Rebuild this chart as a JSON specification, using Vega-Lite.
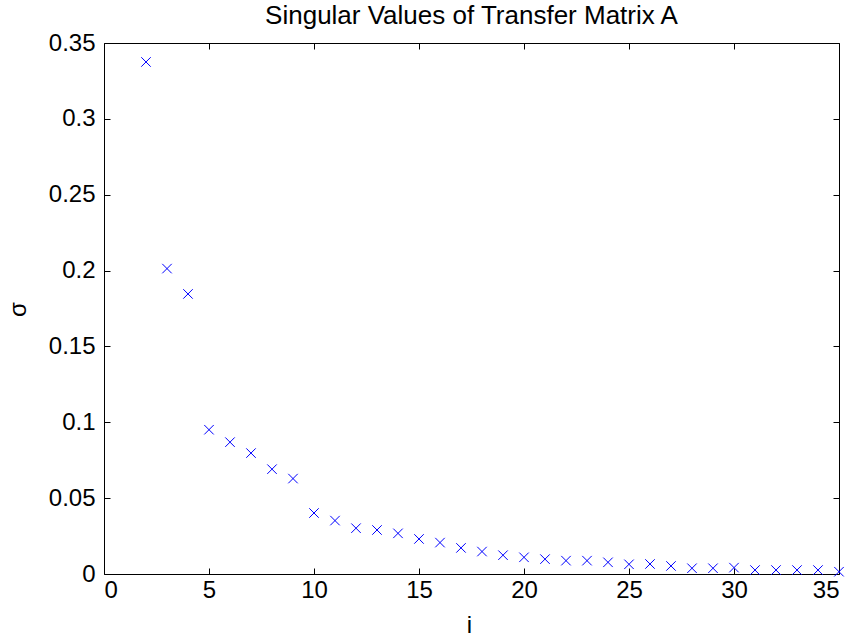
{
  "$schema": "https://vega.github.io/schema/vega-lite/v6.json",
  "autosize": {"type": "none"},
  "width": 735,
  "height": 531,
  "padding": {"left": 104, "top": 43, "right": 19, "bottom": 64},
  "background": "white",
  "config": {
    "view": {"stroke": null},
    "font": "Liberation Sans",
    "axis": {
      "domainColor": "black",
      "domainWidth": 1,
      "tickColor": "black",
      "tickWidth": 1,
      "tickSize": -6,
      "grid": false,
      "labelFont": "Liberation Sans",
      "labelFontSize": 24,
      "labelColor": "black",
      "titleFont": "Liberation Sans",
      "titleFontSize": 24,
      "titleFontWeight": "normal",
      "titleColor": "black"
    }
  },
  "title": {
    "text": "Singular Values of Transfer Matrix A",
    "font": "Liberation Sans",
    "fontSize": 26,
    "fontWeight": "normal",
    "color": "black",
    "baseline": "alphabetic",
    "offset": -19,
    "frame": "group"
  },
  "data": {
    "values": [
      {"i": 2, "sigma": 0.3375},
      {"i": 3, "sigma": 0.2013},
      {"i": 4, "sigma": 0.1846},
      {"i": 5, "sigma": 0.0951},
      {"i": 6, "sigma": 0.0869},
      {"i": 7, "sigma": 0.0797},
      {"i": 8, "sigma": 0.0691},
      {"i": 9, "sigma": 0.0629},
      {"i": 10, "sigma": 0.0402},
      {"i": 11, "sigma": 0.0352},
      {"i": 12, "sigma": 0.0302},
      {"i": 13, "sigma": 0.0290},
      {"i": 14, "sigma": 0.0268},
      {"i": 15, "sigma": 0.0231},
      {"i": 16, "sigma": 0.0207},
      {"i": 17, "sigma": 0.0172},
      {"i": 18, "sigma": 0.0148},
      {"i": 19, "sigma": 0.0124},
      {"i": 20, "sigma": 0.0110},
      {"i": 21, "sigma": 0.0098},
      {"i": 22, "sigma": 0.0088},
      {"i": 23, "sigma": 0.0088},
      {"i": 24, "sigma": 0.0077},
      {"i": 25, "sigma": 0.0064},
      {"i": 26, "sigma": 0.0066},
      {"i": 27, "sigma": 0.0053},
      {"i": 28, "sigma": 0.0038},
      {"i": 29, "sigma": 0.0038},
      {"i": 30, "sigma": 0.0042},
      {"i": 31, "sigma": 0.0026},
      {"i": 32, "sigma": 0.0026},
      {"i": 33, "sigma": 0.0026},
      {"i": 34, "sigma": 0.0026},
      {"i": 35, "sigma": 0.0015}
    ]
  },
  "layer": [
    {
      "mark": {
        "type": "point",
        "shape": "M-1,-1L1,1M1,-1L-1,1",
        "filled": false,
        "stroke": "#0000ff",
        "strokeWidth": 1,
        "size": 90,
        "opacity": 1
      },
      "encoding": {
        "x": {
          "field": "i",
          "type": "quantitative",
          "scale": {"domain": [0, 35], "nice": false, "zero": false},
          "axis": {
            "orient": "bottom",
            "values": [0, 5, 10, 15, 20, 25, 30, 35],
            "title": "i",
            "labelPadding": 10,
            "titleX": 365,
            "titleY": 58,
            "titleBaseline": "alphabetic",
            "titleAlign": "center"
          }
        },
        "y": {
          "field": "sigma",
          "type": "quantitative",
          "scale": {"domain": [0, 0.35], "nice": false, "zero": false},
          "axis": {
            "orient": "left",
            "values": [0, 0.05, 0.1, 0.15, 0.2, 0.25, 0.3, 0.35],
            "format": "~g",
            "title": "σ",
            "labelPadding": 15,
            "titleAngle": -90,
            "titleX": -86,
            "titleY": 266,
            "titleBaseline": "middle",
            "titleAlign": "center"
          }
        }
      }
    },
    {
      "mark": {"type": "point", "opacity": 0},
      "encoding": {
        "x": {
          "field": "i",
          "type": "quantitative",
          "scale": {"domain": [0, 35], "nice": false, "zero": false},
          "axis": {
            "orient": "top",
            "values": [0, 5, 10, 15, 20, 25, 30, 35],
            "labels": false,
            "title": null
          }
        },
        "y": {
          "field": "sigma",
          "type": "quantitative",
          "scale": {"domain": [0, 0.35], "nice": false, "zero": false},
          "axis": {
            "orient": "right",
            "values": [0, 0.05, 0.1, 0.15, 0.2, 0.25, 0.3, 0.35],
            "labels": false,
            "title": null
          }
        }
      }
    }
  ],
  "resolve": {"axis": {"x": "independent", "y": "independent"}}
}
